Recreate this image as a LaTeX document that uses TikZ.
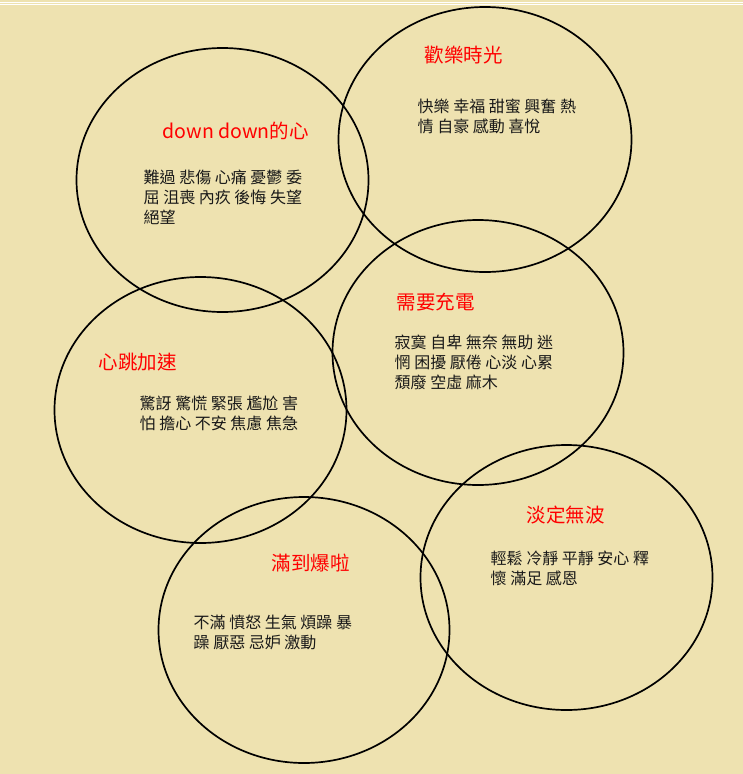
\documentclass[tikz,border=0pt]{standalone}
\usepackage{fontspec}
\setmainfont{Noto Sans CJK TC}
\definecolor{paper}{RGB}{238,226,176}
\definecolor{ink}{RGB}{25,25,25}
\definecolor{headred}{RGB}{255,0,0}
\tikzset{
  ring/.style={draw=black,line width=1.7},
  title/.style={text=headred,anchor=west,inner sep=0,font=\fontsize{19.5}{23}\selectfont},
  words/.style={text=ink,anchor=north west,inner sep=0,align=left,font=\fontsize{16}{20}\selectfont}
}
\begin{document}
\begin{tikzpicture}[x=1pt,y=-1pt]
    \fill[paper] (0,0) rectangle (742,774);
    \draw[white,line width=1] (0,2.2)--(742,2.2);
    \draw[white,line width=.7] (0,4.3)--(742,4.3);

    \draw[ring] (222,180) ellipse [x radius=146,y radius=132];
    \node[title] (downT) at (162,131) {down down的心};
    \node[words] (downW) at (143,169.5) {難過 悲傷 心痛 憂鬱 委\\屈 沮喪 內疚 後悔 失望\\絕望};

    \draw[ring] (484.5,139.5) ellipse [x radius=146.5,y radius=132.5];
    \node[title] (joyT) at (424,55) {歡樂時光};
    \node[words] (joyW) at (417,98.5) {快樂 幸福 甜蜜 興奮 熱\\情 自豪 感動 喜悅};

    \draw[ring] (477.5,352.5) ellipse [x radius=145.5,y radius=132.5];
    \node[title] (lowT) at (396,302) {需要充電};
    \node[words] (lowW) at (394,334.5) {寂寞 自卑 無奈 無助 迷\\惘 困擾 厭倦 心淡 心累\\頹廢 空虛 麻木};

    \draw[ring] (200,410) ellipse [x radius=146,y radius=133];
    \node[title] (beatT) at (98,362) {心跳加速};
    \node[words] (beatW) at (139,395.5) {驚訝 驚慌 緊張 尷尬 害\\怕 擔心 不安 焦慮 焦急};

    \draw[ring] (566,577.5) ellipse [x radius=146,y radius=132.5];
    \node[title] (calmT) at (526,515) {淡定無波};
    \node[words] (calmW) at (490,550.5) {輕鬆 冷靜 平靜 安心 釋\\懷 滿足 感恩};

    \draw[ring] (303.5,630) ellipse [x radius=145.5,y radius=133];
    \node[title] (fullT) at (271,563) {滿到爆啦};
    \node[words] (fullW) at (193,614.5) {不滿 憤怒 生氣 煩躁 暴\\躁 厭惡 忌妒 激動};
\end{tikzpicture}
\end{document}
